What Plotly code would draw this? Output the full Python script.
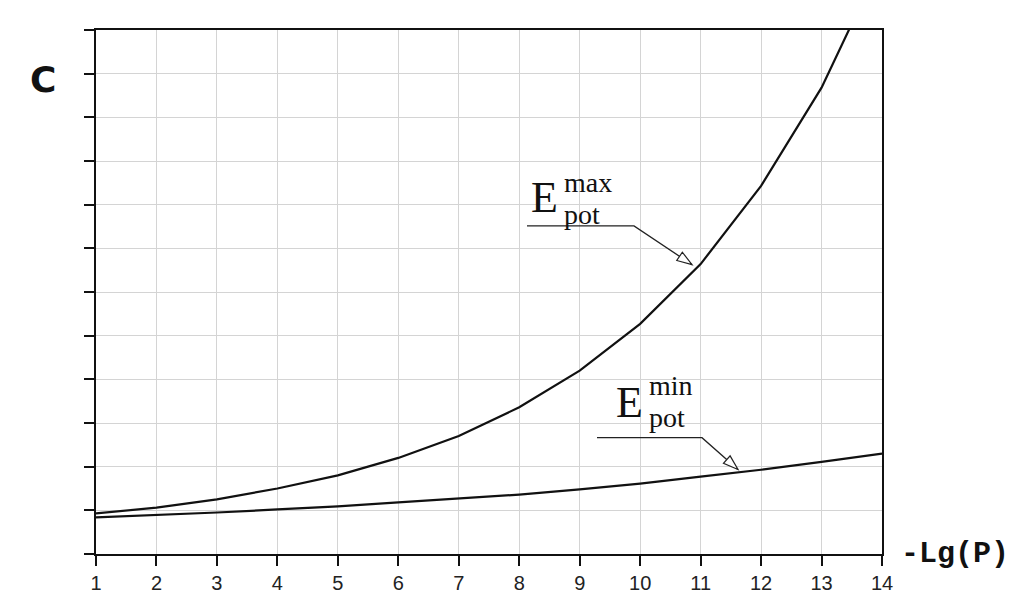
import plotly.graph_objects as go

# ---- data ----
x_vals = [1, 2, 3, 4, 5, 6, 7, 8, 9, 10, 11, 12, 13, 14]
e_max = [0.93, 1.06, 1.25, 1.50, 1.80, 2.20, 2.70, 3.36, 4.20, 5.27, 6.64, 8.43, 10.68, 13.6]
e_min = [0.84, 0.89, 0.95, 1.02, 1.09, 1.18, 1.27, 1.36, 1.48, 1.61, 1.77, 1.93, 2.11, 2.30]
x_ticks = list(range(1, 15))
y_ticks = list(range(0, 13))

# plot-area geometry in page pixels (page has an 8px body margin)
L, R, T, B = 96, 882, 30, 557
OFF = 8
W, H = 1016, 598
X0, X1, Y0, Y1 = 1, 14, 0, 12


def px2x(px):
    return X0 + (px - L) / (R - L) * (X1 - X0)


def px2y(py):
    return Y0 + (B - py) / (B - T) * (Y1 - Y0)


fig = go.Figure()
for ys in (e_max, e_min):
    fig.add_trace(go.Scatter(x=x_vals, y=ys, mode="lines",
                             line=dict(color="#111111", width=2.2), showlegend=False,
                             hoverinfo="skip"))

axis_common = dict(showline=True, linecolor="#111111", linewidth=2, mirror=True,
                   showgrid=True, gridcolor="#d4d4d4", gridwidth=1,
                   ticks="outside", ticklen=10, tickwidth=2, tickcolor="#111111",
                   zeroline=False)

fig.update_xaxes(range=[X0, X1], tickvals=x_ticks, ticktext=[str(v) for v in x_ticks],
                 tickfont=dict(family="Liberation Sans, Arial", size=20, color="#222222"),
                 **axis_common)
fig.update_yaxes(range=[Y0, Y1], tickvals=y_ticks, showticklabels=False, **axis_common)

ann = []
# axis titles
ann.append(dict(xref="paper", yref="paper", x=(43 - L) / (R - L), y=(B - 80) / (B - T),
                text="<b>C</b>", showarrow=False, xanchor="center", yanchor="middle",
                font=dict(family="DejaVu Sans", size=36, color="#111111")))
ann.append(dict(xref="paper", yref="paper", x=(955 - L) / (R - L), y=(B - 557) / (B - T),
                text="<b>-Lg(P)</b>", showarrow=False, xanchor="center", yanchor="middle",
                font=dict(family="Liberation Mono, Courier New", size=30, color="#111111")))


def label(ex, ey, sup, sub_y, sup_y):
    serif = "Liberation Serif, Times New Roman"
    ann.append(dict(x=px2x(ex), y=px2y(ey), text="E", showarrow=False,
                    xanchor="left", yanchor="middle",
                    font=dict(family=serif, size=44, color="#111111")))
    ann.append(dict(x=px2x(ex + 33), y=px2y(sup_y), text=sup, showarrow=False,
                    xanchor="left", yanchor="middle",
                    font=dict(family=serif, size=28, color="#111111")))
    ann.append(dict(x=px2x(ex + 33), y=px2y(sub_y), text="pot", showarrow=False,
                    xanchor="left", yanchor="middle",
                    font=dict(family=serif, size=28, color="#111111")))


label(529, 198, "max", 216, 183)
label(614, 405, "min", 420, 388)

shapes = []


def pointer(x_start, x_corner, y_line, x_tip, y_tip):
    shapes.append(dict(type="path", xref="x", yref="y",
                       path=f"M {px2x(x_start)},{px2y(y_line)} L {px2x(x_corner)},{px2y(y_line)} L {px2x(x_tip)},{px2y(y_tip)}",
                       line=dict(color="#222222", width=1.3)))
    dx, dy = x_tip - x_corner, y_tip - y_line
    n = (dx * dx + dy * dy) ** 0.5
    ux, uy = dx / n, dy / n
    bx, by = x_tip - 15 * ux, y_tip - 15 * uy
    px_, py_ = -uy * 5, ux * 5
    pts = [(x_tip, y_tip), (bx + px_, by + py_), (bx - px_, by - py_)]
    path = "M " + " L ".join(f"{px2x(a)},{px2y(b)}" for a, b in pts) + " Z"
    shapes.append(dict(type="path", xref="x", yref="y", path=path,
                       fillcolor="white", line=dict(color="#222222", width=1.2)))


pointer(527, 634, 227, 692, 266)
pointer(597, 702, 440, 738, 472)

fig.update_layout(width=W, height=H,
                  margin=dict(l=L - OFF, r=W + OFF - R, t=T - OFF, b=H + OFF - B),
                  plot_bgcolor="white", paper_bgcolor="white",
                  annotations=ann, shapes=shapes)

fig.write_html("out.html")
